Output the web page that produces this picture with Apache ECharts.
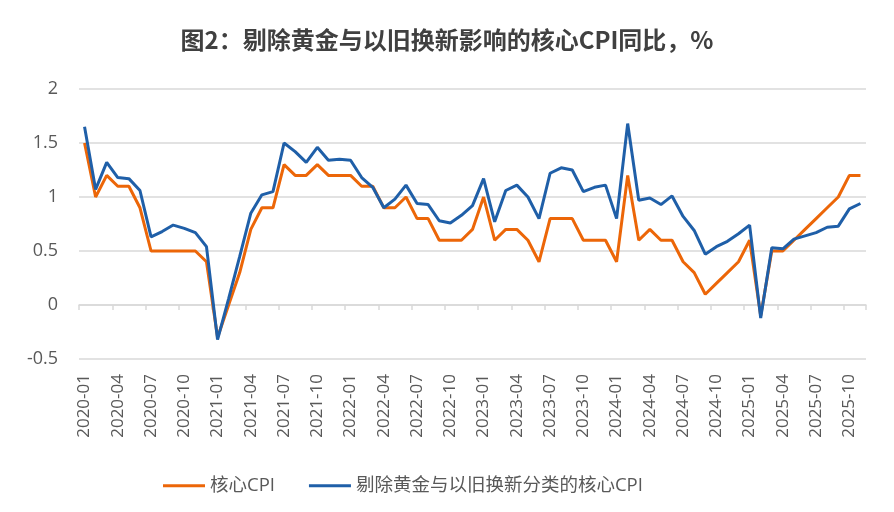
<!DOCTYPE html>
<html>
<head>
<meta charset="utf-8">
<script src="https://cdn.jsdelivr.net/npm/echarts@6/dist/echarts.min.js"></script>
<style>html,body{margin:0;padding:0;background:#fff}#c{width:894px;height:512px}</style>
</head>
<body>
<div id="c"></div>
<script>
// Months 2020-01 .. 2025-11
const categories = [];
for (let y = 2020; y <= 2025; y++) {
  for (let m = 1; m <= 12; m++) {
    if (y === 2025 && m > 11) break;
    categories.push(y + '-' + (m < 10 ? '0' + m : m));
  }
}
const coreCPI = [
  1.5, 1.0, 1.2, 1.1, 1.1, 0.9, 0.5, 0.5, 0.5, 0.5, 0.5, 0.4,
  -0.3, 0.0, 0.3, 0.7, 0.9, 0.9, 1.3, 1.2, 1.2, 1.3, 1.2, 1.2,
  1.2, 1.1, 1.1, 0.9, 0.9, 1.0, 0.8, 0.8, 0.6, 0.6, 0.6, 0.7,
  1.0, 0.6, 0.7, 0.7, 0.6, 0.4, 0.8, 0.8, 0.8, 0.6, 0.6, 0.6,
  0.4, 1.2, 0.6, 0.7, 0.6, 0.6, 0.4, 0.3, 0.1, 0.2, 0.3, 0.4,
  0.6, -0.1, 0.5, 0.5, 0.6, 0.7, 0.8, 0.9, 1.0, 1.2, 1.2
];
const coreExGold = [
  1.65, 1.07, 1.32, 1.18, 1.17, 1.06, 0.63, 0.68, 0.74, 0.71, 0.67, 0.54,
  -0.32, 0.06, 0.45, 0.85, 1.02, 1.05, 1.50, 1.42, 1.32, 1.46, 1.34, 1.35,
  1.34, 1.18, 1.09, 0.90, 0.98, 1.11, 0.94, 0.93, 0.78, 0.76, 0.83, 0.92,
  1.17, 0.77, 1.06, 1.11, 1.00, 0.80, 1.22, 1.27, 1.25, 1.05, 1.09, 1.11,
  0.80, 1.68, 0.97, 0.99, 0.93, 1.01, 0.82, 0.69, 0.47, 0.54, 0.59, 0.66,
  0.74, -0.12, 0.53, 0.52, 0.61, 0.64, 0.67, 0.72, 0.73, 0.89, 0.94
];
const seriesNames = ['核心CPI', '剔除黄金与以旧换新分类的核心CPI'];
const titleText = '图2：剔除黄金与以旧换新影响的核心CPI同比，%';

const FONT = '"Open Sans", "Noto Sans CJK SC", sans-serif';
const chart = echarts.init(document.getElementById('c'), null, {renderer: 'canvas'});
chart.setOption({
  animation: false,
  backgroundColor: '#ffffff',
  title: {
    text: titleText,
    left: 'center',
    top: 23,
    textStyle: {fontFamily: '"Noto Sans CJK SC", sans-serif', fontSize: 24, fontWeight: 'bold', color: '#404040'}
  },
  legend: {
    bottom: 12,
    left: 158,
    itemWidth: 42,
    itemHeight: 3,
    itemGap: 34,
    icon: 'rect',
    textStyle: {fontFamily: FONT, fontSize: 18.5, color: '#595959'},
    data: seriesNames
  },
  grid: {left: 79, right: 28, top: 89, bottom: 153, containLabel: false},
  xAxis: [
    {
      type: 'category',
      data: categories,
      boundaryGap: true,
      position: 'bottom',
      axisLine: {show: false, onZero: false},
      axisTick: {show: false},
      axisLabel: {interval: 2, rotate: 90, margin: 15, fontFamily: FONT, fontSize: 17, color: '#595959'},
      splitLine: {show: false}
    },
    {
      type: 'category',
      data: categories,
      boundaryGap: true,
      position: 'bottom',
      axisLine: {show: true, onZero: true, lineStyle: {color: '#d9d9d9', width: 1.5}},
      axisTick: {show: true, interval: 2, length: 5, lineStyle: {color: '#d9d9d9', width: 1.5}},
      axisLabel: {show: false},
      splitLine: {show: false}
    }
  ],
  yAxis: {
    type: 'value',
    min: -0.5,
    max: 2,
    interval: 0.5,
    axisLine: {show: false},
    axisTick: {show: false},
    axisLabel: {margin: 21, fontFamily: FONT, fontSize: 18, color: '#595959'},
    splitLine: {lineStyle: {color: '#d9d9d9', width: 1.5}}
  },
  series: [
    {
      name: seriesNames[0],
      type: 'line',
      data: coreCPI,
      symbol: 'none',
      lineStyle: {color: '#EC6608', width: 3},
      itemStyle: {color: '#EC6608'},
      z: 2
    },
    {
      name: seriesNames[1],
      type: 'line',
      data: coreExGold,
      symbol: 'none',
      lineStyle: {color: '#1F5FA8', width: 3},
      itemStyle: {color: '#1F5FA8'},
      z: 3
    }
  ]
});
</script>
</body>
</html>
